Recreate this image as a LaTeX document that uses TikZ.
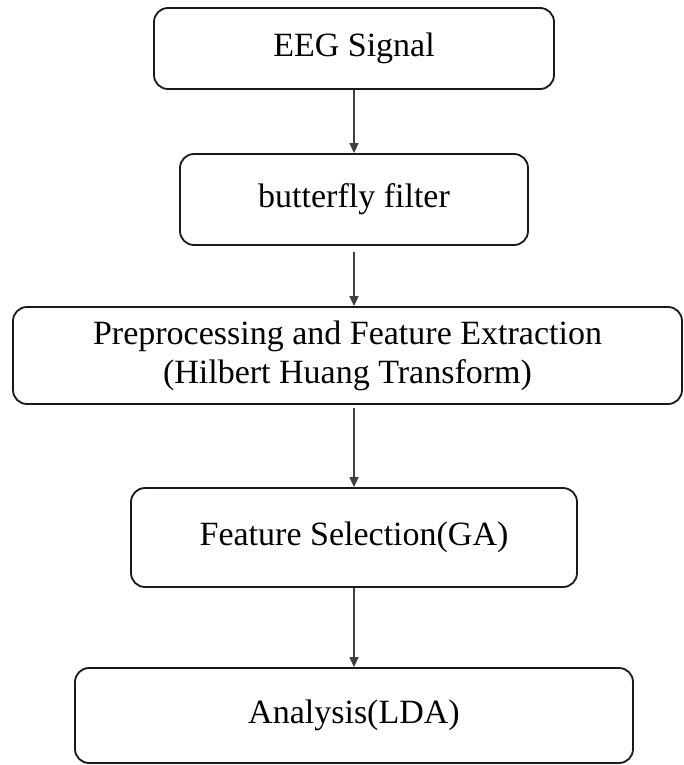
\documentclass[tikz,border=0pt]{standalone}
\usepackage{fontspec}
\setmainfont{Liberation Serif}
\usetikzlibrary{arrows.meta}

\begin{document}
\begin{tikzpicture}[x=1pt, y=-1pt,
		stage/.style={draw=black!90, line width=1.8pt, rounded corners=14pt, align=center, inner sep=0pt, font=\fontsize{34}{39}\selectfont},
		flow/.style={draw=black!75, line width=1.6pt, -{Triangle[length=10pt, width=9pt]}}]
		\useasboundingbox (0, 0) rectangle (684, 765);
		
		\node[stage, minimum width=400pt, minimum height=81pt] (eeg) at (354, 48.5) {EEG Signal};
		\node[stage, minimum width=348pt, minimum height=91pt] (filter) at (354, 199.5) {butterfly filter};
		\node[stage, minimum width=669pt, minimum height=97pt] (hht) at (347.5, 355.5) {Preprocessing and Feature Extraction\\(Hilbert Huang Transform)};
		\node[stage, minimum width=446pt, minimum height=99pt] (feat) at (354, 537.5) {Feature Selection(GA)};
		\node[stage, minimum width=558pt, minimum height=95pt] (lda) at (354, 715.5) {Analysis(LDA)};
		
		\draw[flow] (eeg) -- (filter);
		\draw[flow, shorten <=6pt] (filter.south) -- (filter.south |- hht.north);
		\draw[flow, shorten <=3pt] (feat.north |- hht.south) -- (feat.north);
		\draw[flow] (feat) -- (lda);
	\end{tikzpicture}
\end{document}
